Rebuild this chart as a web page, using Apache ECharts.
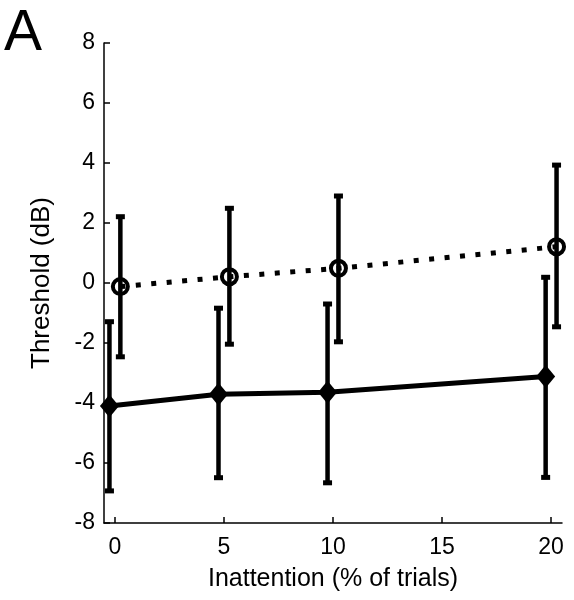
<!DOCTYPE html>
<html>
<head>
<meta charset="utf-8">
<script src="https://cdn.jsdelivr.net/npm/echarts@6/dist/echarts.min.js"></script>
<style>html,body{margin:0;padding:0;background:#fff}#c{width:574px;height:600px}</style>
</head>
<body>
<div id="c"></div>
<script>
// Data
var inattention = [0, 5, 10, 20];
var xTicks = [0, 5, 10, 15, 20];
var yTicks = [-8, -6, -4, -2, 0, 2, 4, 6, 8];
// Circle series (dotted)
var circleMean = [-0.12, 0.21, 0.49, 1.21];
var circleHigh = [2.21, 2.49, 2.90, 3.93];
var circleLow  = [-2.46, -2.04, -1.96, -1.46];
// Diamond series (solid)
var diamondMean = [-4.10, -3.71, -3.64, -3.12];
var diamondHigh = [-1.29, -0.84, -0.70, 0.19];
var diamondLow  = [-6.93, -6.49, -6.66, -6.48];

var circleOffset = 0.25, diamondOffset = -0.25;

function pts(xs, ys, off) { return xs.map(function (x, i) { return [x + off, ys[i]]; }); }
function errs(xs, lo, hi, off) { return xs.map(function (x, i) { return [x + off, lo[i], hi[i]]; }); }

function errRender(params, api) {
  var x = api.value(0);
  var lo = api.coord([x, api.value(1)]);
  var hi = api.coord([x, api.value(2)]);
  var capW = 9, capH = 5;
  return {
    type: 'group',
    children: [
      { type: 'line', shape: { x1: lo[0], y1: lo[1], x2: hi[0], y2: hi[1] }, style: { stroke: '#000', lineWidth: 4.5 } },
      { type: 'rect', shape: { x: hi[0] - capW / 2, y: hi[1] - capH / 2, width: capW, height: capH }, style: { fill: '#000' } },
      { type: 'rect', shape: { x: lo[0] - capW / 2, y: lo[1] - capH / 2, width: capW, height: capH }, style: { fill: '#000' } }
    ]
  };
}

var font = 'Liberation Sans, Arial, Helvetica, sans-serif';
var chart = echarts.init(document.getElementById('c'), null, { renderer: 'canvas' });
chart.setOption({
  animation: false,
  backgroundColor: '#fff',
  grid: { left: 104, right: 12, top: 43, bottom: 77, containLabel: false },
  xAxis: {
    type: 'value', min: -0.5, max: 20.5,
    name: 'Inattention (% of trials)', nameLocation: 'middle', nameGap: 44,
    nameTextStyle: { fontFamily: font, fontSize: 25, color: '#000' },
    axisLine: { show: true, onZero: false, lineStyle: { color: '#000', width: 1.5 } },
    axisTick: { show: true, inside: true, length: 6, customValues: xTicks, lineStyle: { color: '#000', width: 1.5 } },
    axisLabel: { customValues: xTicks, fontFamily: font, fontSize: 23, color: '#000', margin: 13 },
    splitLine: { show: false }
  },
  yAxis: {
    type: 'value', min: -8, max: 8, interval: 2,
    name: 'Threshold (dB)', nameLocation: 'middle', nameGap: 49, nameRotate: 90,
    nameTextStyle: { fontFamily: font, fontSize: 26, color: '#000' },
    axisLine: { show: true, onZero: false, lineStyle: { color: '#000', width: 1.5 } },
    axisTick: { show: true, inside: true, length: 6, lineStyle: { color: '#000', width: 1.5 } },
    axisLabel: { fontFamily: font, fontSize: 23, color: '#000', margin: 9 },
    splitLine: { show: false }
  },
  graphic: [
    { type: 'text', left: 4, top: 6, style: { text: 'A', font: '57px ' + font, fill: '#000' } }
  ],
  series: [
    { type: 'custom', renderItem: errRender, data: errs(inattention, circleLow, circleHigh, circleOffset), z: 2 },
    { type: 'custom', renderItem: errRender, data: errs(inattention, diamondLow, diamondHigh, diamondOffset), z: 2 },
    {
      type: 'line', data: pts(inattention, diamondMean, diamondOffset), z: 3,
      lineStyle: { color: '#000', width: 5 },
      symbol: 'diamond', symbolSize: [19, 23],
      itemStyle: { color: '#000' }
    },
    {
      type: 'line', data: pts(inattention, circleMean, circleOffset), z: 3,
      lineStyle: { color: '#000', width: 5, type: [5, 10.5] },
      symbol: 'circle', symbolSize: 15,
      itemStyle: { color: 'rgba(0,0,0,0)', borderColor: '#000', borderWidth: 4 }
    }
  ]
});
</script>
</body>
</html>
